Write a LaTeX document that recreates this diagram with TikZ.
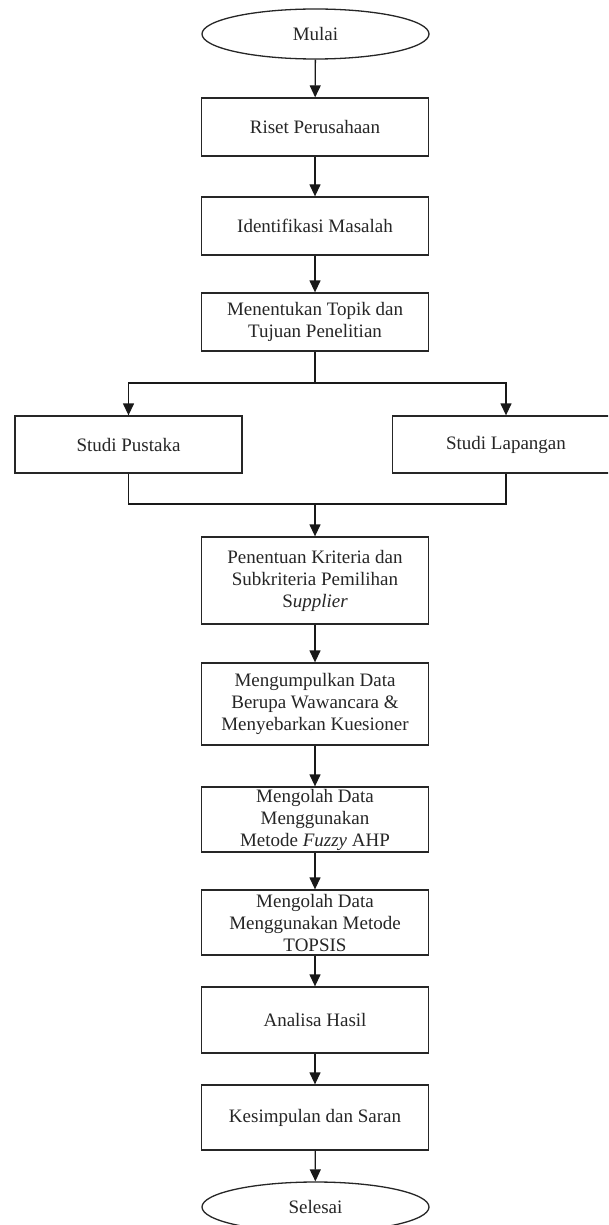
\documentclass[tikz,border=0pt]{standalone}
\usepackage{fontspec}
\setmainfont{Liberation Serif}
\usetikzlibrary{shapes.geometric,arrows.meta}
\begin{document}
\begin{tikzpicture}[x=1pt,y=-1pt,
  every node/.style={font=\fontsize{19}{22}\selectfont, text=black!85},
  procbox/.style={draw=black!85, line width=1.3pt, rectangle, minimum width=227pt, inner sep=2pt, align=center},
  term/.style={draw=black!85, line width=1.3pt, ellipse, minimum width=227pt, minimum height=50pt, inner sep=0pt},
  arr/.style={draw=black!90, line width=1.3pt, -{Triangle[length=12pt,width=11pt]}},
  ln/.style={draw=black!90, line width=1.3pt}]
\clip (0,0) rectangle (608,1225);
\fill[white] (0,0) rectangle (608,1225);
\node[term] (mulai) at (315.5,34) {Mulai};
\node[procbox, minimum height=58pt] (riset) at (315,127) {Riset Perusahaan};
\node[procbox, minimum height=58pt] (ident) at (315,226) {Identifikasi Masalah};
\node[procbox, minimum height=58pt] (topik) at (315,322) {Menentukan Topik dan\\Tujuan Penelitian};
\node[procbox, minimum height=57pt] (pustaka) at (128.5,444.5) {Studi Pustaka};
\node[procbox, minimum height=57pt] (lapangan) at (506,444.5) {Studi Lapangan};
\node[procbox, minimum height=87pt] (kriteria) at (315,580.5) {Penentuan Kriteria dan\\Subkriteria Pemilihan\\S\textit{upplier}};
\node[procbox, minimum height=82pt] (kumpul) at (315,704) {Mengumpulkan Data\\Berupa Wawancara \&\\Menyebarkan Kuesioner};
\node[procbox, minimum height=65pt, inner sep=0pt] (fuzzy) at (315,819.5) {Mengolah Data\\Menggunakan\\Metode \textit{Fuzzy} AHP};
\node[procbox, minimum height=65pt, inner sep=0pt] (topsis) at (315,922.5) {Mengolah Data\\Menggunakan Metode\\TOPSIS};
\node[procbox, minimum height=66pt] (analisa) at (315,1020) {Analisa Hasil};
\node[procbox, minimum height=65pt] (simpul) at (315,1117.5) {Kesimpulan dan Saran};
\node[term] (selesai) at (315.5,1207) {Selesai};
\coordinate (split) at (315,383);
\coordinate (merge) at (315,504);
\draw[arr] (mulai) -- (riset);
\draw[arr] (riset) -- (ident);
\draw[arr] (ident) -- (topik);
\draw[ln] (topik.south) -- (split);
\draw[arr] (split) -| (pustaka.north);
\draw[arr] (split) -| (lapangan.north);
\draw[ln] (pustaka.south) |- (merge);
\draw[ln] (lapangan.south) |- (merge);
\draw[arr] (merge) -- (kriteria.north);
\draw[arr] (kriteria) -- (kumpul);
\draw[arr] (kumpul) -- (fuzzy);
\draw[arr] (fuzzy) -- (topsis);
\draw[arr] (topsis) -- (analisa);
\draw[arr] (analisa) -- (simpul);
\draw[arr] (simpul) -- (selesai);
\end{tikzpicture}
\end{document}
